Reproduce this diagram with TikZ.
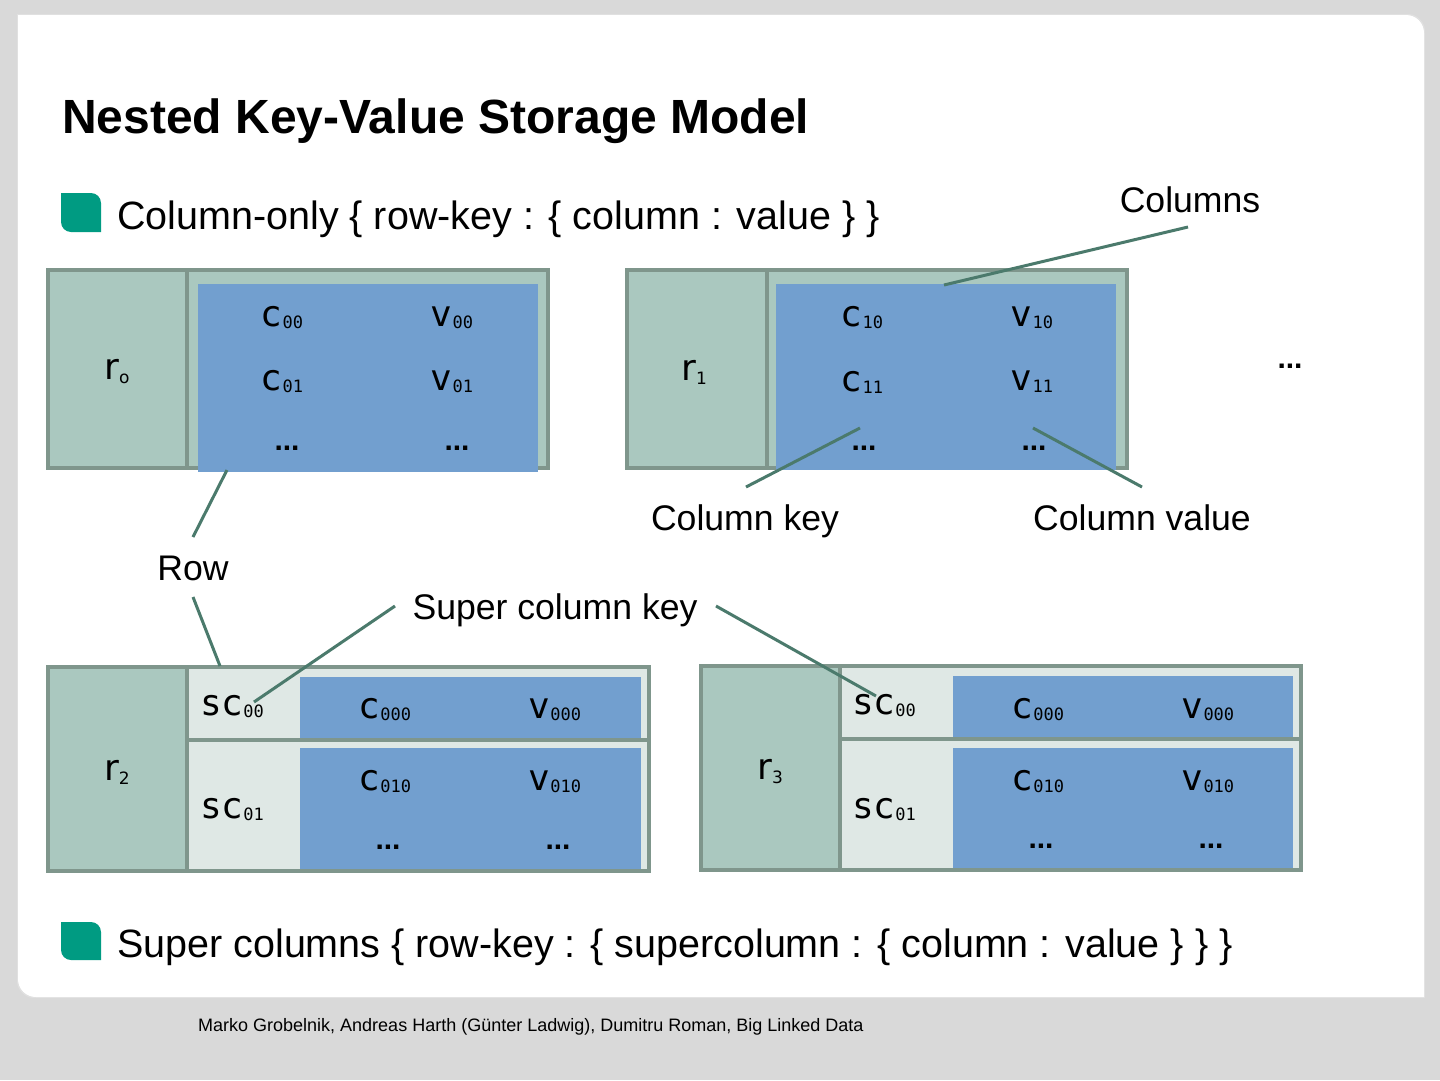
\documentclass[tikz,border=0pt]{standalone}
\usepackage{fontspec}
\setmainfont{Liberation Sans}
\newfontfamily\monof{DejaVu Sans Mono}
\newfontfamily\rfont{DejaVu Sans}
\definecolor{bgc}{HTML}{D9D9D9}
\definecolor{teal}{HTML}{009B82}
\definecolor{bordc}{HTML}{7F968C}
\definecolor{rowc}{HTML}{AAC8BF}
\definecolor{lightc}{HTML}{DFE8E5}
\definecolor{bluec}{HTML}{729FCF}
\definecolor{connc}{HTML}{4B7A6C}
\newcommand\kvlab[2]{{\monof\fontsize{36}{36}\selectfont #1\raisebox{-2pt}{\fontsize{17}{17}\selectfont #2}}}
\newcommand\rlab[2]{{\rfont\fontsize{36}{36}\selectfont #1\raisebox{-4pt}{\fontsize{17}{17}\selectfont #2}}}
\newcommand\dotslab{{\fontsize{30}{30}\selectfont\bfseries ...}}
\tikzset{
  cellbase/.style={rectangle, draw=bordc, line width=3.5pt, inner sep=0pt, outer sep=0pt},
  rowcell/.style={cellbase, fill=rowc},
  lightcell/.style={cellbase, fill=lightc},
  bluebox/.style={rectangle, fill=bluec, inner sep=0pt, outer sep=0pt},
  conn/.style={draw=connc, line width=3pt},
  lbl/.style={font=\fontsize{35.6}{36}\selectfont, inner sep=0pt, anchor=base},
  txt/.style={inner sep=0pt},
}
\begin{document}
\begin{tikzpicture}[x=1pt,y=-1pt]
\useasboundingbox (0,0) rectangle (1440,1080);
\fill[bgc] (0,0) rectangle (1440,1080);
% panel with soft edge
\fill[black!12] (17,14) -- (1408,14) .. controls (1417,14) and (1425,22) .. (1425,31) -- (1425,998) -- (34,998) .. controls (25,998) and (17,990) .. (17,981) -- cycle;
\fill[white] (18,15) -- (1406,15) .. controls (1416,15) and (1424,23) .. (1424,33) -- (1424,997) -- (36,997) .. controls (26,997) and (18,989) .. (18,979) -- cycle;

% title
\node[txt, anchor=base west, font=\fontsize{48}{48}\selectfont\bfseries] (title) at (62,133) {Nested Key-Value Storage Model};

% bullets
\fill[teal] (61,193) -- (91,193) .. controls (96.5,193) and (101,197.5) .. (101,203) -- (101,232) -- (71,232) .. controls (65.5,232) and (61,227.5) .. (61,222) -- cycle;
\node[txt, anchor=base west, font=\fontsize{39.5}{40}\selectfont] (b1) at (117,229) {Column-only \{ row-key : \{ column : value \} \}};
\fill[teal] (61,922) -- (91,922) .. controls (96.5,922) and (101,926.5) .. (101,932) -- (101,960) -- (71,960) .. controls (65.5,960) and (61,955.5) .. (61,950) -- cycle;
\node[txt, anchor=base west, font=\fontsize{39.5}{40}\selectfont] (b2) at (117,957) {Super columns \{ row-key : \{ supercolumn : \{ column : value \} \} \}};

% footer
\node[txt, anchor=base west, font=\fontsize{18}{18}\selectfont] (foot) at (198,1031) {Marko Grobelnik, Andreas Harth (Günter Ladwig), Dumitru Roman, Big Linked Data};

% ---- top-left row r0
\node[rowcell, minimum width=139, minimum height=198] (r0cell) at (117.5,369) {};
\node[rowcell, minimum width=361, minimum height=198] (c0area) at (367.5,369) {};
\node[bluebox, minimum width=340, minimum height=188] (c0blue) at (368,378) {};
\node (r0) at (117,372) {\rlab{r}{o}};
\node (c00) at (282,318) {\kvlab{c}{00}};
\node (v00) at (452,318) {\kvlab{v}{00}};
\node (c01) at (282,382) {\kvlab{c}{01}};
\node (v01) at (452,382) {\kvlab{v}{01}};
\node (d0a) at (287,448) {\dotslab};
\node (d0b) at (457,448) {\dotslab};

% ---- top-right row r1
\node[rowcell, minimum width=140, minimum height=198] (r1cell) at (697,369) {};
\node[rowcell, minimum width=360, minimum height=198] (c1area) at (947,369) {};
\node[bluebox, minimum width=340, minimum height=186] (c1blue) at (946,377) {};
\node (r1) at (694,372) {\rlab{r}{1}};
\node (c10) at (862,318) {\kvlab{c}{10}};
\node (v10) at (1032,318) {\kvlab{v}{10}};
\node (c11) at (862,382) {\kvlab{c}{11}};
\node (v11) at (1032,382) {\kvlab{v}{11}};
\node (d1a) at (864,448) {\dotslab};
\node (d1b) at (1034,448) {\dotslab};
\node (more) at (1290,366) {\dotslab};

% ---- bottom-left row r2
\node[rowcell, minimum width=139, minimum height=204] (r2cell) at (117.5,769) {};
\node[lightcell, minimum width=462, minimum height=73] (sc0a) at (418,703.5) {};
\node[lightcell, minimum width=462, minimum height=131] (sc0b) at (418,805.5) {};
\node[bluebox, minimum width=341, minimum height=61] (b2a) at (470.5,707.5) {};
\node[bluebox, minimum width=341, minimum height=121] (b2b) at (470.5,808.5) {};
\node (r2) at (117,772) {\rlab{r}{2}};
\node (sc00a) at (232,707) {\kvlab{sc}{00}};
\node (sc01a) at (232,810) {\kvlab{sc}{01}};
\node (c000a) at (385,710) {\kvlab{c}{000}};
\node (v000a) at (555,710) {\kvlab{v}{000}};
\node (c010a) at (385,782) {\kvlab{c}{010}};
\node (v010a) at (555,782) {\kvlab{v}{010}};
\node (d2a) at (388,847) {\dotslab};
\node (d2b) at (558,847) {\dotslab};

% ---- bottom-right row r3
\node[rowcell, minimum width=139, minimum height=204] (r3cell) at (770.5,768) {};
\node[lightcell, minimum width=461, minimum height=73] (sc1a) at (1070.5,702.5) {};
\node[lightcell, minimum width=461, minimum height=131] (sc1b) at (1070.5,804.5) {};
\node[bluebox, minimum width=340, minimum height=61] (b3a) at (1123,706.5) {};
\node[bluebox, minimum width=340, minimum height=120] (b3b) at (1123,808) {};
\node (r3) at (770,772) {\rlab{r}{3}};
\node (sc00b) at (884,706) {\kvlab{sc}{00}};
\node (sc01b) at (884,810) {\kvlab{sc}{01}};
\node (c000b) at (1038,710) {\kvlab{c}{000}};
\node (v000b) at (1208,710) {\kvlab{v}{000}};
\node (c010b) at (1038,782) {\kvlab{c}{010}};
\node (v010b) at (1208,782) {\kvlab{v}{010}};
\node (d3a) at (1041,846) {\dotslab};
\node (d3b) at (1211,846) {\dotslab};

% labels
\node[lbl] (lcols) at (1190,212) {Columns};
\node[lbl] (lckey) at (745,530) {Column key};
\node[lbl] (lcval) at (1142,530) {Column value};
\node[lbl] (lrow) at (193,580) {Row};
\node[lbl] (lsck) at (555,619) {Super column key};

% connector end points
\coordinate (colsA) at (1188,227);
\coordinate (colsB) at (944,285);
\coordinate (ckA) at (746,487);
\coordinate (ckB) at (860,428);
\coordinate (cvA) at (1142,487);
\coordinate (cvB) at (1033,428);
\coordinate (rowA) at (193,537);
\coordinate (rowB) at (227,470);
\coordinate (rowC) at (193,597);
\coordinate (rowD) at (220,666);
\coordinate (skA) at (395,606);
\coordinate (skB) at (254,702);
\coordinate (skC) at (716,606);
\coordinate (skD) at (876,696);

\draw[conn] (colsA) -- (colsB);
\draw[conn] (ckA) -- (ckB);
\draw[conn] (cvA) -- (cvB);
\draw[conn] (rowA) -- (rowB);
\draw[conn] (rowC) -- (rowD);
\draw[conn] (skA) -- (skB);
\draw[conn] (skC) -- (skD);
\end{tikzpicture}
\end{document}
